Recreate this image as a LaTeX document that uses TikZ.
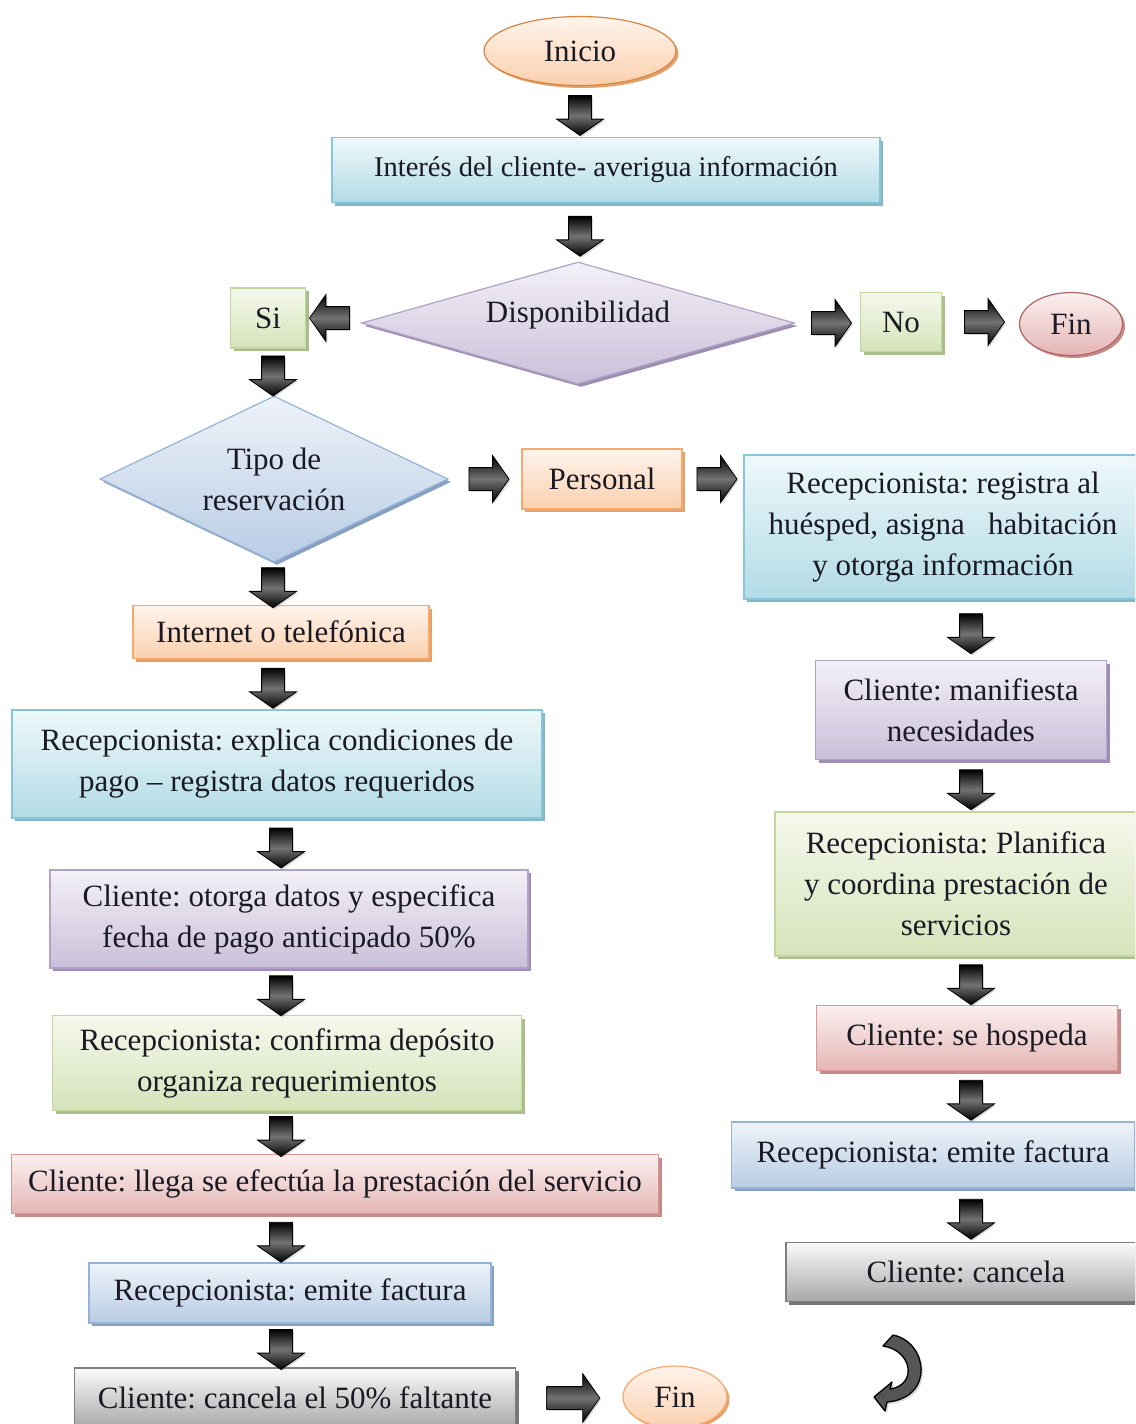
\documentclass[tikz,border=0pt]{standalone}
\usepackage{fontspec}
\setmainfont{Liberation Serif}
\usetikzlibrary{shapes.geometric,shapes.arrows,shadows}
\frenchspacing

% text
\definecolor{txt}{HTML}{1A1A24}
% aqua
\definecolor{aquaD}{HTML}{86C6D8}
\definecolor{aquaT}{HTML}{EEF8FA}
\definecolor{aquaB}{HTML}{B2DBE6}
\definecolor{aquaS}{HTML}{5A9FB3}
% lavender
\definecolor{lavD}{HTML}{B3A2C7}
\definecolor{lavT}{HTML}{F3F0F7}
\definecolor{lavB}{HTML}{CABFD9}
\definecolor{lavS}{HTML}{7E6A99}
% green
\definecolor{grnD}{HTML}{C3D69B}
\definecolor{grnT}{HTML}{F5F8EC}
\definecolor{grnB}{HTML}{D5E3BA}
\definecolor{grnS}{HTML}{8FA866}
% orange
\definecolor{orgD}{HTML}{F6A96B}
\definecolor{orgT}{HTML}{FFF4EC}
\definecolor{orgB}{HTML}{FBD0AE}
\definecolor{orgS}{HTML}{D9843F}
% red
\definecolor{redD}{HTML}{D99694}
\definecolor{redT}{HTML}{FBF0F0}
\definecolor{redB}{HTML}{E4B5B4}
\definecolor{redS}{HTML}{B06563}
% steel blue
\definecolor{stlD}{HTML}{95B3D7}
\definecolor{stlT}{HTML}{EEF3F9}
\definecolor{stlB}{HTML}{B8CCE4}
\definecolor{stlS}{HTML}{5F81AD}
% grey
\definecolor{gryD}{HTML}{7F7F7F}
\definecolor{gryT}{HTML}{FAFAFA}
\definecolor{gryB}{HTML}{A8A8A8}
\definecolor{gryS}{HTML}{4A4A4A}
% curved arrow
\definecolor{curv}{HTML}{555555}

\tikzset{
  x=1pt, y=-1pt,
  basebox/.style={inner sep=0pt, align=center, text=txt,
    font=\fontsize{31}{41}\selectfont, line width=1.2pt},
  shaded/.style 2 args={top color=#1T, bottom color=#1B, draw=#1D,
    drop shadow={shadow xshift=#2, shadow yshift=-#2, fill=#1S, opacity=0.75}},
  rbox/.style={basebox, rectangle, shaded={#1}{3pt}},
  oval/.style={basebox, ellipse, shaded={#1}{2.5pt}},
  rhomb/.style={basebox, diamond, shaded={#1}{3pt}},
  barrow/.style={single arrow, draw=black, line width=0.8pt,
    inner xsep=0pt, inner ysep=11pt, single arrow head extend=12pt,
    single arrow tip angle=110, minimum height=#1,
    top color=black, bottom color=black, middle color=black!55,
    drop shadow={shadow xshift=1.5pt, shadow yshift=-1.5pt, opacity=0.3},
    midway, sloped, allow upside down},
  barrow/.default=40pt
}

\begin{document}
\begin{tikzpicture}
\useasboundingbox (0,0) rectangle (1135,1424);
\fill[white] (0,0) rectangle (1135,1424);
\clip (0,0) rectangle (1135,1424);

% column axes for the vertical arrows
\coordinate (axTop) at (580,0);
\coordinate (axL1) at (273,0);
\coordinate (axL2) at (281,0);
\coordinate (axR) at (971,0);

% ---- top part ----
\node[oval=org, draw=orgS, minimum width=192pt, minimum height=69pt] (ini) at (580,51) {Inicio};
\node[rbox=aqua, minimum width=548pt, minimum height=65pt,
      font=\fontsize{28.5}{38}\selectfont] (int) at (606,170) {Interés del cliente- averigua información};
\node[rhomb=lav, aspect=3.55, minimum width=433pt, minimum height=122pt] (disp) at (578,323)
  {\raisebox{1pt}[0pt][0pt]{Disponibilidad}};
\node[rbox=grn, minimum width=75pt, minimum height=60pt] (si) at (268,318) {Si};
\node[rbox=grn, minimum width=81pt, minimum height=59pt] (no) at (901,322) {No};
\node[oval=red, draw=redS, minimum width=103pt, minimum height=63pt] (fin1) at (1071,324) {Fin};

% ---- reservation type ----
\node[rhomb=stl, aspect=2.1, minimum width=348pt, minimum height=166pt] (tipo) at (274,479) {Tipo de\\reservación};
\node[rbox=org, minimum width=160pt, minimum height=60pt] (pers) at (602,479) {Personal};

% ---- right branch ----
\node[rbox=aqua, minimum width=398pt, minimum height=144pt] (rreg) at (943,527)
  {Recepcionista: registra al\\huésped, asigna\ \ \ habitación\\y otorga información};
\node[rbox=lav, minimum width=291pt, minimum height=99pt] (man) at (961,710)
  {Cliente: manifiesta\\necesidades};
\node[rbox=grn, minimum width=362pt, minimum height=144pt] (plan) at (956,884)
  {Recepcionista: Planifica\\y coordina prestación de\\servicios};
\node[rbox=red, minimum width=301pt, minimum height=65pt] (hosp) at (967,1038)
  {Cliente: se hospeda};
\node[rbox=stl, minimum width=403pt, minimum height=66pt] (emi2) at (933,1155)
  {Recepcionista: emite factura};
\node[rbox=gry, minimum width=360pt, minimum height=59pt] (canc) at (966,1272)
  {Cliente: cancela};

% ---- left branch ----
\node[rbox=org, minimum width=296pt, minimum height=53pt] (inet) at (281,632)
  {Internet o telefónica};
\node[rbox=aqua, minimum width=530pt, minimum height=108pt] (expl) at (277,764)
  {Recepcionista: explica condiciones de\\pago – registra datos requeridos};
\node[rbox=lav, minimum width=478pt, minimum height=98pt] (otor) at (289,919)
  {Cliente: otorga datos y especifica\\fecha de pago anticipado 50\%};
\node[rbox=grn, minimum width=469pt, minimum height=95pt] (conf) at (287,1063)
  {Recepcionista: confirma depósito\\organiza requerimientos};
\node[rbox=red, minimum width=647pt, minimum height=59pt] (lleg) at (335,1184)
  {Cliente: llega se efectúa la prestación del servicio};
\node[rbox=stl, minimum width=402pt, minimum height=60pt] (emi1) at (290,1293)
  {Recepcionista: emite factura};
\node[rbox=gry, minimum width=441pt, minimum height=60pt] (c50) at (295,1398)
  {Cliente: cancela el 50\% faltante};
\node[oval=org, draw=orgD, minimum width=104pt, minimum height=62pt] (fin2) at (675,1397) {Fin};

% ---- block arrows ----
\path (axTop |- ini.south) -- (axTop |- int.north) node[barrow] {};
\path (axTop |- int.south) -- (axTop |- disp.north) node[barrow] {};
\path (si.east) -- (si.east -| disp.west) node[barrow, rotate=180] {};
\path (disp.east) -- (disp.east -| no.west) node[barrow] {};
\path (no.east) -- (no.east -| fin1.west) node[barrow] {};
\path (axL1 |- si.south) -- (axL1 |- tipo.north) node[barrow] {};
\path (tipo.east) -- (tipo.east -| pers.west) node[barrow] {};
\path (pers.east) -- (pers.east -| rreg.west) node[barrow] {};
\path (axL1 |- tipo.south) -- (axL1 |- inet.north) node[barrow] {};
\path (axL1 |- inet.south) -- (axL1 |- expl.north) node[barrow] {};
\path (axL2 |- expl.south) -- (axL2 |- otor.north) node[barrow] {};
\path (axL2 |- otor.south) -- (axL2 |- conf.north) node[barrow] {};
\path (axL2 |- conf.south) -- (axL2 |- lleg.north) node[barrow] {};
\path (axL2 |- lleg.south) -- (axL2 |- emi1.north) node[barrow] {};
\path (axL2 |- emi1.south) -- (axL2 |- c50.north) node[barrow] {};
\path (c50.east) -- (c50.east -| fin2.west) node[barrow=53pt, single arrow head extend=13pt] {};
\path (axR |- rreg.south) -- (axR |- man.north) node[barrow] {};
\path (axR |- man.south) -- (axR |- plan.north) node[barrow] {};
\path (axR |- plan.south) -- (axR |- hosp.north) node[barrow] {};
\path (axR |- hosp.south) -- (axR |- emi2.north) node[barrow] {};
\path (axR |- emi2.south) -- (axR |- canc.north) node[barrow] {};

% ---- curled arrow ----
\draw[fill=curv, draw=black, line width=1.3pt, line join=round,
      drop shadow={shadow xshift=2pt, shadow yshift=-2pt, opacity=0.3}]
  (883,1346) -- (893,1335) .. controls (928,1342) and (935,1398) .. (887,1402)
  -- (885,1411) -- (874,1397) -- (892,1382) -- (890,1389)
  .. controls (918,1385) and (912,1350) .. cycle;
\end{tikzpicture}
\end{document}
